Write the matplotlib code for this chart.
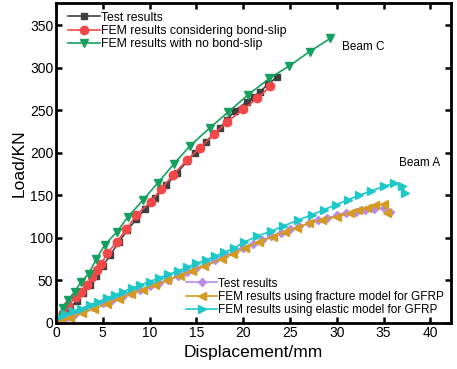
import numpy as np
import matplotlib.pyplot as plt

plt.rcParams['font.family'] = ['Liberation Sans', 'DejaVu Sans']

# Beam C
c_test_x = [0.3, 0.8, 1.5, 2.2, 2.9, 3.6, 4.3, 5.0, 5.8, 6.7, 7.6, 8.6, 9.5, 10.6, 11.8, 12.9,
            14.0, 14.8, 16.0, 17.5, 18.3, 19.1, 20.4, 21.1, 21.8, 22.7, 23.6]
c_test_y = [3, 8, 17, 26, 35, 45, 55, 67, 80, 95, 109, 122, 134, 147, 162, 176,
            190, 200, 213, 229, 239, 249.5, 260, 266, 272, 281, 289]
c_bond_x = [0.3, 0.8, 1.3, 2.1, 2.7, 3.3, 3.9, 4.4, 4.8, 5.5, 6.5, 7.5, 8.6, 10.1, 11.2, 12.5,
            14.0, 15.4, 16.9, 18.3, 20.0, 21.5, 22.9]
c_bond_y = [3, 12, 21, 30, 37, 45, 54, 62, 69, 82, 95.5, 110, 127, 142.5, 157, 174,
            191.5, 206, 222, 236.5, 251, 264, 278]
c_nobond_x = [0.2, 0.75, 1.3, 2.0, 2.7, 3.5, 4.3, 5.2, 6.5, 7.7, 9.3, 10.9, 12.6, 14.3, 16.4,
              18.4, 20.5, 22.8, 24.9, 27.1, 29.3]
c_nobond_y = [5, 17.6, 27, 37, 48.5, 58, 75, 91.6, 107, 125, 144.5, 165, 187, 208, 229,
              248, 268, 287.5, 302, 319, 334.5]

# Beam A
a_test_x = [0.5, 1.2, 2, 3, 4, 5, 6, 7, 8, 9, 10, 11, 12, 13, 14, 15, 16, 17, 18, 19, 20,
            21, 22, 23, 24, 25, 26, 27, 28, 29, 30, 31, 32, 33, 34, 35, 35.7]
a_test_y = [3, 7, 11, 15, 19, 23, 27, 31, 35, 39, 43, 47, 51, 55.5, 60, 64.5, 69, 73.5, 78.5,
            83.5, 88.5, 93, 97.5, 102, 106, 110, 113.5, 117, 120.5, 123.5, 126.5, 129, 131,
            133, 134.5, 135, 131]
a_frac_x = [0.5, 1.5, 2.8, 4.1, 5.4, 6.7, 8.0, 9.3, 10.6, 11.9, 13.2, 14.5, 15.8, 17.7, 18.9,
            20.2, 21.7, 23.2, 24.5, 25.7, 27.0, 28.4, 30.0, 31.4, 32.3, 33.2, 34.1, 35.0, 35.4]
a_frac_y = [2, 6, 11.5, 17, 22.5, 28, 33.5, 39, 44.5, 50, 55.5, 61, 66.5, 75, 81,
            88, 95, 101.5, 107, 112, 117, 121, 125, 129, 133, 135, 138.7, 139.5, 129]
a_elas_x = [0.3, 1.0, 1.8, 2.7, 3.6, 4.5, 5.4, 6.3, 7.2, 8.1, 9.0, 10.0, 11.0, 12.0, 13.0, 14.0,
            15.0, 16.0, 17.0, 18.0, 19.0, 20.1, 21.5, 23.0, 24.3, 25.9, 27.3, 28.6, 29.9, 31.2,
            32.4, 33.6, 35.0, 36.1, 37.0, 37.3]
a_elas_y = [7, 10, 13.5, 17, 21, 25, 29, 33, 37, 41, 44.5, 48.5, 53, 57, 61, 65.5,
            70, 74, 78.5, 83, 88, 95, 102, 108, 114, 121, 127, 133, 139, 145,
            150, 155, 160.5, 164, 161, 153]

fig = plt.figure(figsize=(4.57, 3.69), dpi=100)
ax = fig.add_axes([0.1225, 0.1247, 0.8645, 0.867])

l1, = ax.plot(c_test_x, c_test_y, '-s', color='#404040', ms=5, lw=1.2, label='Test results')
l2, = ax.plot(c_bond_x, c_bond_y, '-o', color='#F44848', ms=6, lw=1.2,
              label='FEM results considering bond-slip')
l3, = ax.plot(c_nobond_x, c_nobond_y, '-v', color='#16A060', ms=6, lw=1.2,
              label='FEM results with no bond-slip')
l4, = ax.plot(a_test_x, a_test_y, '-D', color='#B98BE6', ms=4.5, lw=1.2, label='Test results')
l5, = ax.plot(a_frac_x, a_frac_y, '-<', color='#D49A22', ms=6, lw=1.2,
              label='FEM results using fracture model for GFRP')
l6, = ax.plot(a_elas_x, a_elas_y, '->', color='#1EC8C8', ms=6, lw=1.2,
              label='FEM results using elastic model for GFRP')

ax.text(30.5, 324, 'Beam C', fontsize=8.5, va='center')
ax.text(36.6, 188, 'Beam A', fontsize=8.5, va='center')

leg1 = ax.legend(handles=[l1, l2, l3], loc='upper left', frameon=False, fontsize=8.8,
                 handlelength=2.6, handletextpad=0.1, labelspacing=0.1,
                 borderaxespad=0.3, bbox_to_anchor=(0.01, 1.0))
ax.add_artist(leg1)
ax.legend(handles=[l4, l5, l6], loc='lower right', frameon=False, fontsize=8.5,
          handlelength=2.6, handletextpad=0.1, labelspacing=0.1,
          borderaxespad=0.2, bbox_to_anchor=(1.0, 0.0))

ax.set_xlim(0, 42.2)
ax.set_ylim(0, 376)
ax.set_xticks(np.arange(0, 41, 5))
ax.set_yticks(np.arange(0, 351, 50))
ax.tick_params(direction='in', top=True, right=True, width=1.8, length=4, labelsize=10, pad=2)
for s in ax.spines.values():
    s.set_linewidth(2)
ax.set_xlabel('Displacement/mm', fontsize=12.5)
ax.set_ylabel('Load/KN', fontsize=12.5, labelpad=2)

fig.savefig('out.png', dpi=100)
